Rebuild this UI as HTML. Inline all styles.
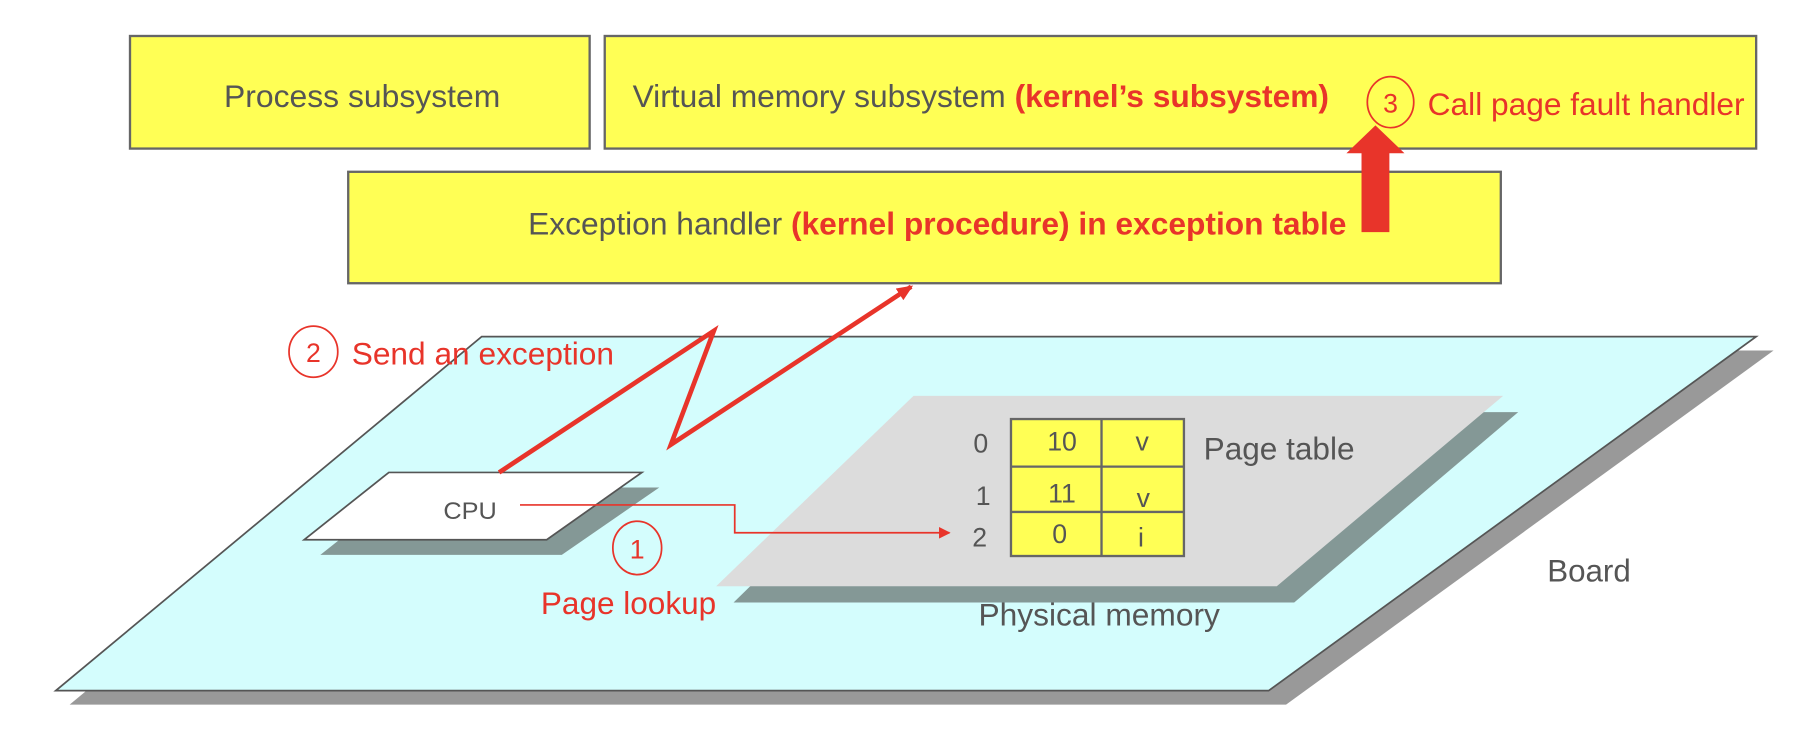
<!DOCTYPE html>
<html><head><meta charset="utf-8"><style>html,body{margin:0;padding:0;background:#fff}svg{display:block}</style></head>
<body>
<svg width="1820" height="740" viewBox="0 0 1568 637.5" preserveAspectRatio="none" xmlns="http://www.w3.org/2000/svg" font-family="Liberation Sans, Arial, sans-serif">
<defs>
<marker id="ah" markerWidth="10" markerHeight="10" refX="9" refY="5" orient="auto" markerUnits="userSpaceOnUse"><path d="M0,0 L10,5 L0,10 z" fill="#e8342a"/></marker>
<marker id="ah2" markerWidth="14" markerHeight="12" refX="12" refY="6" orient="auto" markerUnits="userSpaceOnUse"><path d="M0,0 L14,6 L0,12 z" fill="#e8342a"/></marker>
</defs>
<rect x="112" y="31" width="396" height="97" fill="#ffff55" stroke="#666" stroke-width="2"/>
<text x="193" y="92" font-size="27" fill="#555" textLength="238" lengthAdjust="spacingAndGlyphs">Process subsystem</text>
<rect x="521" y="31" width="992" height="97" fill="#ffff55" stroke="#666" stroke-width="2"/>
<text x="545" y="92" font-size="27" fill="#555" textLength="600" lengthAdjust="spacingAndGlyphs">Virtual memory subsystem <tspan fill="#e8342a" font-weight="bold">(kernel’s subsystem)</tspan></text>
<ellipse cx="1198" cy="88" rx="20" ry="22" fill="none" stroke="#e8342a" stroke-width="1.5"/>
<text x="1198" y="97" font-size="23" fill="#e8342a" text-anchor="middle">3</text>
<text x="1230" y="99" font-size="27" fill="#e8342a" textLength="273" lengthAdjust="spacingAndGlyphs">Call page fault handler</text>
<rect x="300" y="148" width="993" height="96" fill="#ffff55" stroke="#666" stroke-width="2"/>
<text x="455" y="202" font-size="27" fill="#555" textLength="705" lengthAdjust="spacingAndGlyphs">Exception handler <tspan fill="#e8342a" font-weight="bold">(kernel procedure) in exception table</tspan></text>
<polygon points="1173,200 1197,200 1197,132 1210,132 1185,108 1160,132 1173,132" fill="#e8342a"/>
<polygon points="60,607 428,302 1528,302 1108,607" fill="#999"/>
<polygon points="48,595 415,290 1513,290 1093,595" fill="#d4fdfd" stroke="#555" stroke-width="1.5"/>
<polygon points="632,519 800,355 1308,355 1115,519" fill="#849896"/>
<polygon points="617,505 787,341 1295,341 1100,505" fill="#dcdcdc"/>
<polygon points="276,478 349,420 568,420 484,478" fill="#849896"/>
<polygon points="262,465 335,407 553,407 471,465" fill="#fff" stroke="#555" stroke-width="1.5"/>
<text x="382" y="447" font-size="21" fill="#555" textLength="46" lengthAdjust="spacingAndGlyphs">CPU</text>
<rect x="871" y="361" width="149" height="118" fill="#ffff55" stroke="#666" stroke-width="2"/>
<line x1="949" y1="361" x2="949" y2="479" stroke="#666" stroke-width="2"/>
<line x1="871" y1="402" x2="1020" y2="402" stroke="#666" stroke-width="2"/>
<line x1="871" y1="441" x2="1020" y2="441" stroke="#666" stroke-width="2"/>
<g font-size="23" fill="#555" text-anchor="middle">
<text x="845" y="390">0</text><text x="915" y="388">10</text><text x="984" y="388">v</text>
<text x="847" y="435">1</text><text x="915" y="433">11</text><text x="985" y="437">v</text>
<text x="844" y="471">2</text><text x="913" y="468">0</text><text x="983" y="471">i</text>
</g>
<text x="1037" y="396" font-size="27" fill="#555" textLength="130" lengthAdjust="spacingAndGlyphs">Page table</text>
<text x="843" y="539" font-size="27" fill="#555" textLength="208" lengthAdjust="spacingAndGlyphs">Physical memory</text>
<text x="1333" y="501" font-size="27" fill="#555" textLength="72" lengthAdjust="spacingAndGlyphs">Board</text>
<polyline points="448,435 633,435 633,459 818,459" fill="none" stroke="#e8342a" stroke-width="1.5" marker-end="url(#ah)"/>
<ellipse cx="549" cy="472" rx="21" ry="23" fill="none" stroke="#e8342a" stroke-width="1.5"/>
<text x="549" y="481" font-size="23" fill="#e8342a" text-anchor="middle">1</text>
<text x="466" y="529" font-size="27" fill="#e8342a" textLength="151" lengthAdjust="spacingAndGlyphs">Page lookup</text>
<polyline points="430,407 615,285 578,383 785,247" fill="none" stroke="#e8342a" stroke-width="4" marker-end="url(#ah2)"/>
<ellipse cx="270" cy="303" rx="21" ry="22" fill="none" stroke="#e8342a" stroke-width="1.5"/>
<text x="270" y="312" font-size="23" fill="#e8342a" text-anchor="middle">2</text>
<text x="303" y="314" font-size="27" fill="#e8342a" textLength="226" lengthAdjust="spacingAndGlyphs">Send an exception</text>
</svg>
</body></html>
